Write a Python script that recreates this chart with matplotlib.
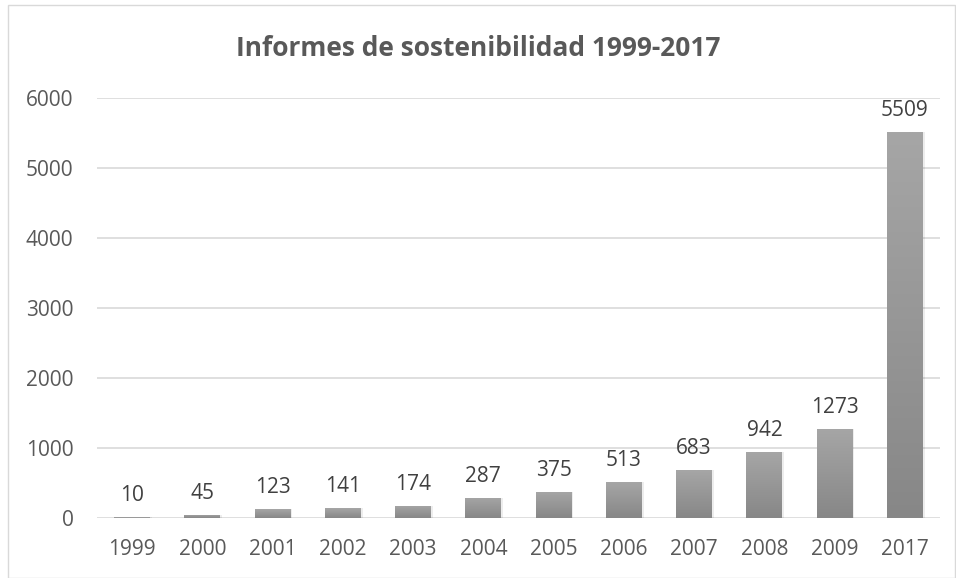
import matplotlib
matplotlib.use("Agg")
import matplotlib.pyplot as plt
import numpy as np
from matplotlib.patches import Rectangle
from matplotlib.colors import LinearSegmentedColormap

years = ["1999", "2000", "2001", "2002", "2003", "2004", "2005", "2006", "2007", "2008", "2009", "2017"]
reports = [10, 45, 123, 141, 174, 287, 375, 513, 683, 942, 1273, 5509]
yticks = [0, 1000, 2000, 3000, 4000, 5000, 6000]
title = "Informes de sostenibilidad 1999-2017"

plt.rcParams['font.family'] = ['Open Sans', 'DejaVu Sans']

fig = plt.figure(figsize=(9.56, 5.78), dpi=100)
ax = fig.add_axes([97/956, 1-518/578, (940-97)/956, (518-98)/578])

x = np.arange(len(years))
bars = ax.bar(x, reports, width=0.51, color='none', zorder=3)
grad = np.linspace(0, 1, 256).reshape(-1, 1)
cmap = LinearSegmentedColormap.from_list('g', ['#878787', '#a6a6a6'])
for b in bars:
    x0, y0 = b.get_x(), b.get_y()
    w, h = b.get_width(), b.get_height()
    sh = Rectangle((x0 + 0.025, y0), w, h, facecolor='#000000', alpha=0.07,
                   edgecolor='none', zorder=2)
    ax.add_patch(sh)
    im = ax.imshow(grad, extent=[x0, x0 + w, y0, y0 + h], origin='lower',
                   cmap=cmap, aspect='auto', zorder=3)
    im.set_clip_path(b)

for xi, v in zip(x, reports):
    ax.annotate(str(v), (xi, v), xytext=(0, 11.5), textcoords='offset points',
                ha='center', va='baseline', fontsize=15, color='#404040')

ax.set_xlim(-0.5, len(years) - 0.5)
ax.set_ylim(0, 6000)
ax.set_yticks(yticks)
ax.set_xticks(x)
ax.set_xticklabels(years)
ax.tick_params(axis='both', length=0, labelsize=15, colors='#595959')
ax.tick_params(axis='y', pad=17)
ax.tick_params(axis='x', pad=15)
ax.grid(axis='y', color='#d9d9d9', linewidth=1.2, zorder=0)
ax.set_axisbelow(True)
for s in ax.spines.values():
    s.set_visible(False)

fig.text(0.5, 1 - 56/578, title, ha='center', va='baseline', fontsize=19,
         fontweight='bold', color='#595959')

fig.patches.append(Rectangle((8/956, 0), 1 - 8/956 - 1/956, 1 - 5/578, transform=fig.transFigure,
                             facecolor='none', edgecolor='#d9d9d9', linewidth=1))

fig.savefig('out.png', dpi=100)
